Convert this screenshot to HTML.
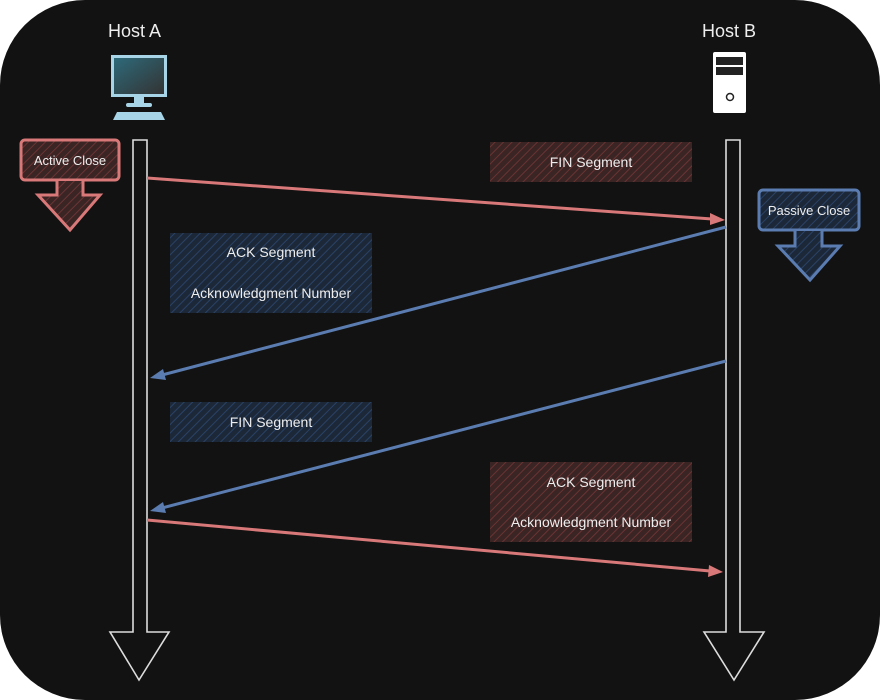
<!DOCTYPE html>
<html><head><style>
body{margin:0;background:#fff;}
svg{display:block;font-family:"Liberation Sans",sans-serif;}
</style></head><body>
<svg width="880" height="700" viewBox="0 0 880 700">
<defs>
<pattern id="hr" width="6" height="6" patternUnits="userSpaceOnUse" patternTransform="rotate(45)"><rect width="6" height="6" fill="#3a2424"/><line x1="0" y1="0" x2="0" y2="6" stroke="#6a3434" stroke-width="2"/></pattern>
<pattern id="hb" width="6" height="6" patternUnits="userSpaceOnUse" patternTransform="rotate(45)"><rect width="6" height="6" fill="#1c2838"/><line x1="0" y1="0" x2="0" y2="6" stroke="#2a4266" stroke-width="2"/></pattern>
<linearGradient id="scr" x1="0" y1="0" x2="1" y2="1"><stop offset="0" stop-color="#2e6a7a"/><stop offset="1" stop-color="#333"/></linearGradient>
</defs>
<rect x="0" y="0" width="880" height="700" rx="85" fill="#121212"/>
<g fill="#eee" font-size="18"><text x="108" y="37">Host A</text><text x="702" y="37">Host B</text></g>
<rect x="111" y="55" width="56" height="42" fill="#a8d4e8"/><rect x="114" y="58" width="50" height="36" fill="url(#scr)"/>
<rect x="134" y="97" width="10" height="7" fill="#a8d4e8"/><rect x="126" y="103" width="26" height="4" rx="2" fill="#a8d4e8"/>
<polygon points="117,112 161,112 165,120 113,120" fill="#a8d4e8"/>
<rect x="713" y="52" width="33" height="61" rx="2" fill="#fff"/>
<rect x="716" y="57" width="27" height="8" fill="#222"/><rect x="716" y="67" width="27" height="8" fill="#222"/>
<circle cx="730" cy="97" r="3.5" fill="none" stroke="#222" stroke-width="1.5"/>
<g fill="none" stroke="#ddd" stroke-width="1.6">
<path d="M133,140 L147,140 L147,632 L169,632 L139,680 L110,632 L133,632 Z"/>
<path d="M726,140 L740,140 L740,632 L764,632 L734,680 L704,632 L726,632 Z"/>
</g>
<rect x="490" y="142" width="202" height="40" fill="url(#hr)"/>
<rect x="170" y="233" width="202" height="80" fill="url(#hb)"/>
<rect x="170" y="402" width="202" height="40" fill="url(#hb)"/>
<rect x="490" y="462" width="202" height="80" fill="url(#hr)"/>
<g fill="#eee" font-size="14" text-anchor="middle">
<text x="591" y="167">FIN Segment</text>
<text x="271" y="257">ACK Segment</text>
<text x="271" y="298">Acknowledgment Number</text>
<text x="271" y="427">FIN Segment</text>
<text x="591" y="487">ACK Segment</text>
<text x="591" y="527">Acknowledgment Number</text>
</g>
<rect x="21" y="140" width="98" height="40" rx="4" fill="url(#hr)" stroke="#d87878" stroke-width="3"/>
<path d="M57,181 L57,195 L38,195 L70,230 L100,195 L83,195 L83,181" fill="url(#hr)" stroke="#d87878" stroke-width="3"/>
<text x="70" y="165" fill="#eee" font-size="13" text-anchor="middle">Active Close</text>
<rect x="759" y="190" width="100" height="40" rx="4" fill="url(#hb)" stroke="#5a7cb0" stroke-width="3"/>
<path d="M795,231 L795,246 L778,246 L810,280 L840,246 L822,246 L822,231" fill="url(#hb)" stroke="#5a7cb0" stroke-width="3"/>
<text x="809" y="215" fill="#eee" font-size="13" text-anchor="middle">Passive Close</text>
<g stroke-width="3" fill="none">
<path d="M147,178 L712,219" stroke="#d87878"/>
<path d="M726,227 L162,375" stroke="#5a7cb0"/>
<path d="M726,361 L162,508" stroke="#5a7cb0"/>
<path d="M147,520 L710,571" stroke="#d87878"/>
</g>
<polygon points="710,213 725,220 710,225" fill="#d87878"/>
<polygon points="163,369 150,378 166,380" fill="#5a7cb0"/>
<polygon points="163,502 150,511 166,513" fill="#5a7cb0"/>
<polygon points="709,565 723,572 708,577" fill="#d87878"/>
</svg>
</body></html>
